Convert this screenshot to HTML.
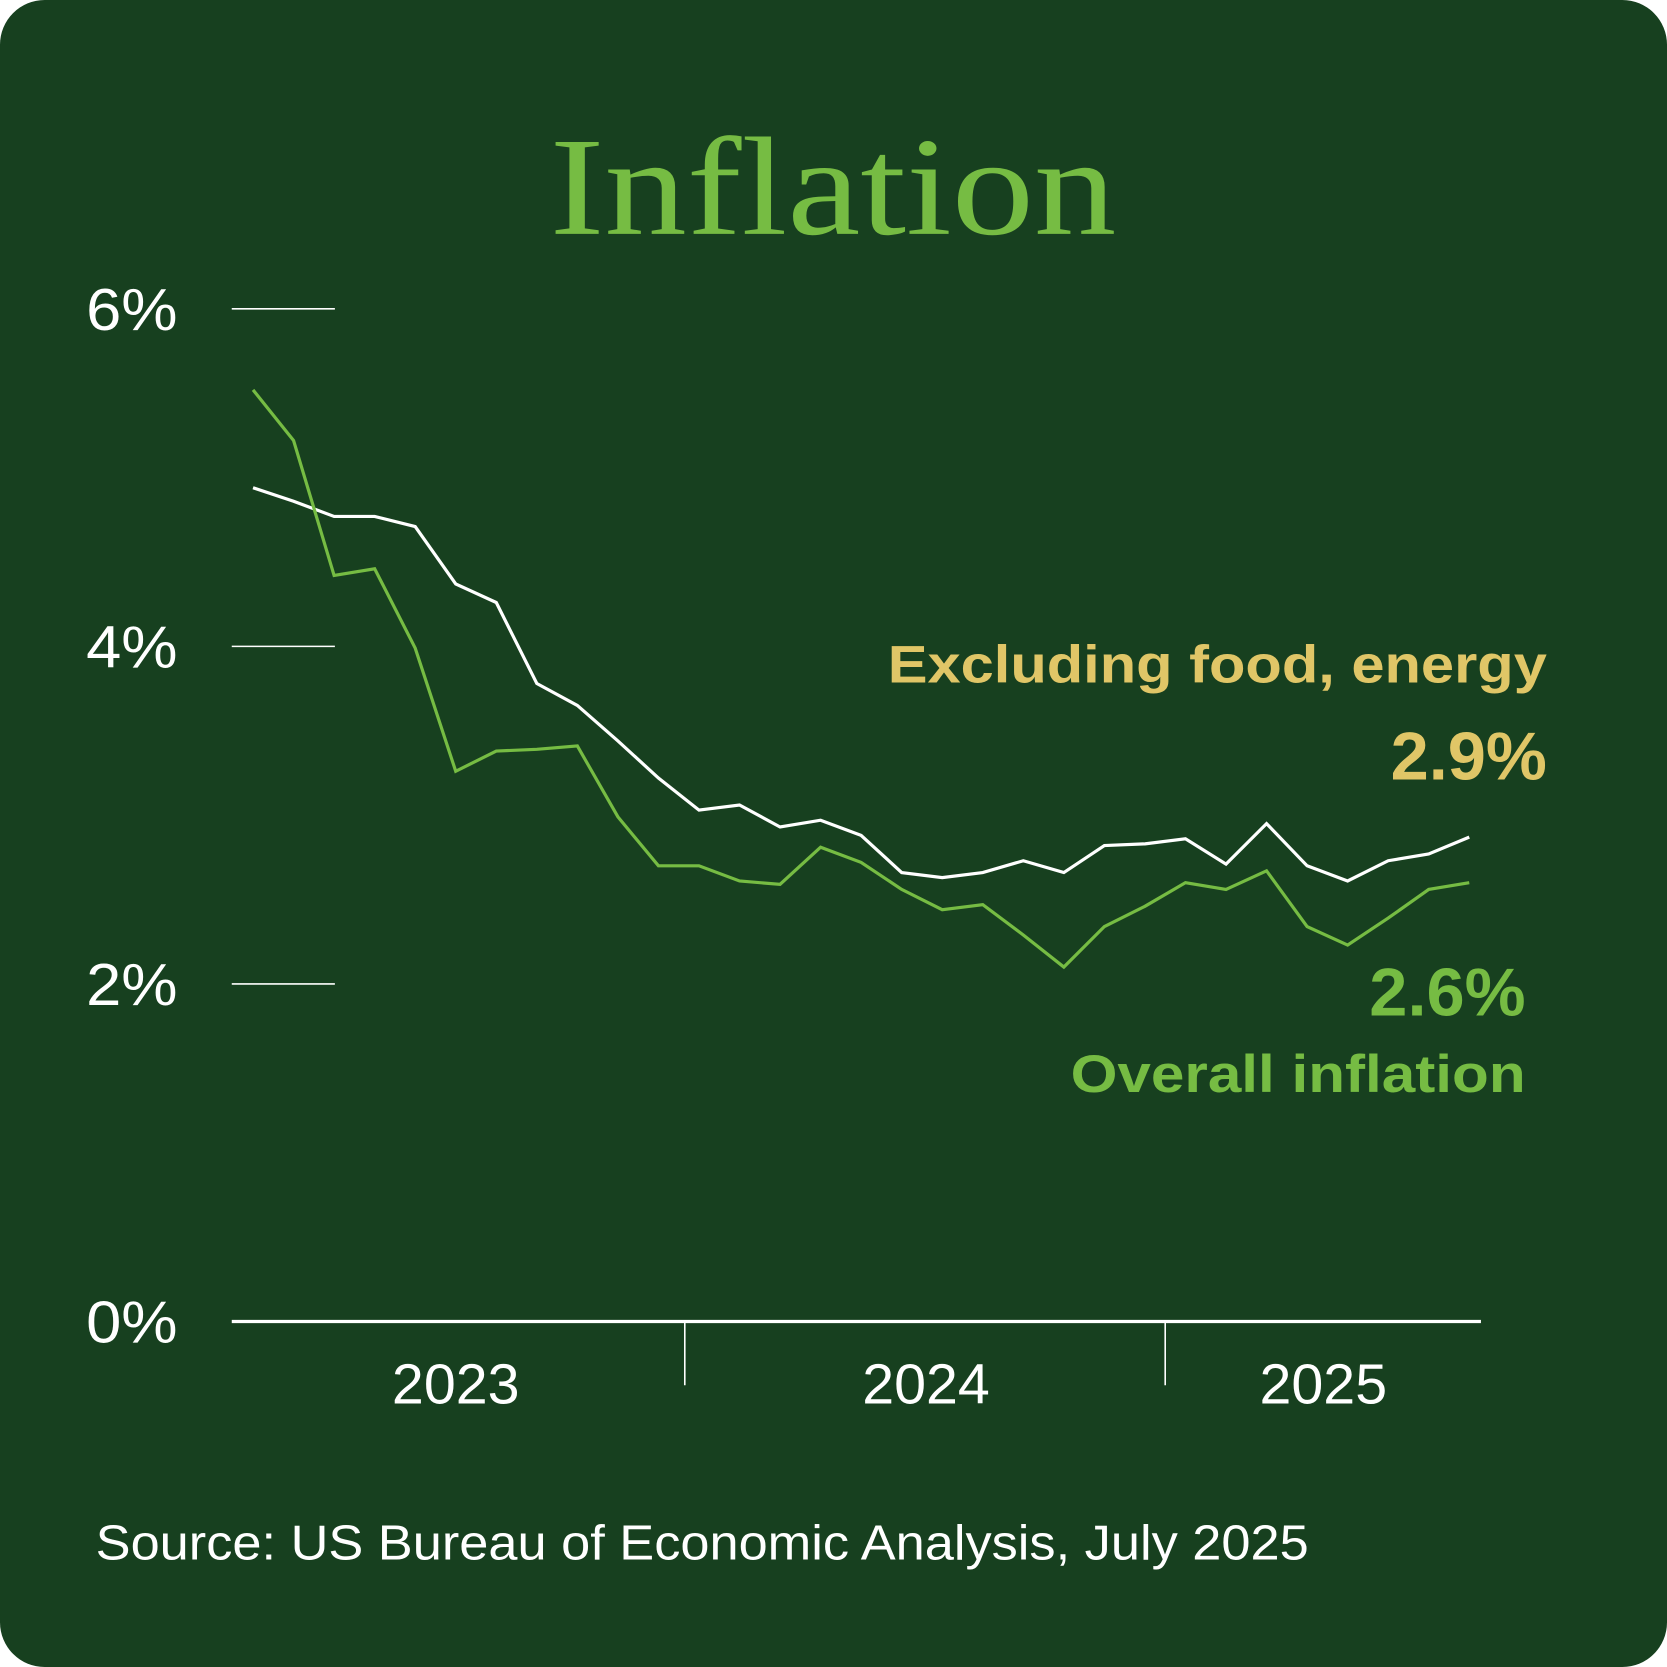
<!DOCTYPE html>
<html><head><meta charset="utf-8"><style>
html,body{margin:0;padding:0;background:#fff;}
svg{display:block;}
</style></head><body>
<svg width="1667" height="1667" viewBox="0 0 1568 1568" font-family="Liberation Sans, sans-serif">
<rect x="0" y="0" width="1568" height="1568" rx="42" fill="#17401F"/>
<text x="517" y="220" style="font-family:'Liberation Serif',serif" font-size="132" fill="#76BC43" textLength="533" lengthAdjust="spacingAndGlyphs">Inflation</text>
<g id="axes"></g>
<g id="series"></g>
<text x="1455" y="642" text-anchor="end" font-size="50" font-weight="bold" fill="#E0C667" textLength="620" lengthAdjust="spacingAndGlyphs">Excluding food, energy</text>
<text x="1455" y="733" text-anchor="end" font-size="64" font-weight="bold" fill="#E0C667" textLength="147" lengthAdjust="spacingAndGlyphs">2.9%</text>
<text x="1435" y="955" text-anchor="end" font-size="64" font-weight="bold" fill="#76BC43" textLength="147" lengthAdjust="spacingAndGlyphs">2.6%</text>
<text x="1435" y="1027" text-anchor="end" font-size="50" font-weight="bold" fill="#76BC43" textLength="428" lengthAdjust="spacingAndGlyphs">Overall inflation</text>
<text x="90" y="1467" font-size="46" fill="#fff" textLength="1141" lengthAdjust="spacingAndGlyphs">Source: US Bureau of Economic Analysis, July 2025</text>
</svg>
<script>
const yTicks=[0,2,4,6];
const yTickLabels=["0%","2%","4%","6%"];
const years=["2023","2024","2025"];
const yearCenters=[5.0,16.6,26.4];
const yearDividers=[10.65,22.5];
const coreValues=[4.94,4.86,4.77,4.77,4.71,4.37,4.26,3.78,3.65,3.44,3.22,3.03,3.06,2.93,2.97,2.88,2.66,2.63,2.66,2.73,2.66,2.82,2.83,2.86,2.71,2.95,2.70,2.61,2.73,2.77,2.87];
const overallValues=[5.52,5.22,4.42,4.46,3.99,3.26,3.38,3.39,3.41,2.99,2.70,2.70,2.61,2.59,2.81,2.72,2.56,2.44,2.47,2.29,2.10,2.34,2.46,2.60,2.56,2.67,2.34,2.23,2.39,2.56,2.60];

const NS="http://www.w3.org/2000/svg";
const xScale=i=>238+i*(1382-238)/30;
const yScale=v=>1243-v*158.75;
function mk(tag,attrs,parent){const e=document.createElementNS(NS,tag);for(const k in attrs)e.setAttribute(k,attrs[k]);parent.appendChild(e);return e;}
const axes=document.getElementById('axes');
yTicks.forEach((t,i)=>{
  if(t>0){const l=mk('line',{x1:218,x2:315,y1:yScale(t),y2:yScale(t),stroke:'#fff','stroke-width':1.5},axes);
  
  }
  const tx=mk('text',{x:167,y:yScale(t)+20,'text-anchor':'end','font-size':56,fill:'#fff',textLength:86,lengthAdjust:'spacingAndGlyphs'},axes);
  tx.textContent=yTickLabels[i];
  
  
});
const base=mk('line',{x1:218,x2:1393,y1:yScale(0),y2:yScale(0),stroke:'#fff','stroke-width':3},axes);


yearDividers.forEach((d,i)=>{
  const l=mk('line',{x1:xScale(d),x2:xScale(d),y1:yScale(0),y2:1303,stroke:'#fff','stroke-width':1.5},axes);
  
  
});
years.forEach((y,i)=>{
  const t=mk('text',{x:xScale(yearCenters[i]),y:1320,'text-anchor':'middle','font-size':53,fill:'#fff',textLength:120,lengthAdjust:'spacingAndGlyphs'},axes);
  t.textContent=y;
  
  
});
const series=document.getElementById('series');
function line(vals,color,w,name){
  const p=mk('polyline',{points:vals.map((v,i)=>xScale(i)+','+yScale(v)).join(' '),fill:'none',stroke:color,'stroke-width':w,'stroke-linejoin':'miter'},series);
  
  
}
line(coreValues,'#ffffff',3,'core-inflation-line');
line(overallValues,'#76BC43',3,'overall-inflation-line');
</script>
</body></html>
